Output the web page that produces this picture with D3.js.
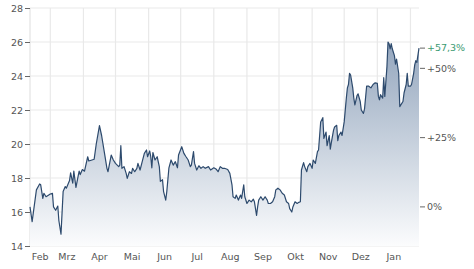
<!DOCTYPE html>
<html>
<head>
<meta charset="utf-8">
<script src="https://cdn.jsdelivr.net/npm/d3@7"></script>
<style>
  body { margin: 0; background: #fff; }
  svg { display: block; font-family: "DejaVu Sans", Verdana, sans-serif; }
</style>
</head>
<body>
<svg id="chart" width="474" height="269"></svg>
<script>
var svgWidth = 474;
var svgHeight = 269;

// price ticks (left), percent ticks (right), german month names
var priceTicks = [14, 16, 18, 20, 22, 24, 26, 28];
var pctTicks = [0, 25, 50];
var monthNames = ["Jan", "Feb", "Mrz", "Apr", "Mai", "Jun", "Jul", "Aug", "Sep", "Okt", "Nov", "Dez"];

// closing prices
var dates = [
  "2023-02-10","2023-02-12","2023-02-16","2023-02-19","2023-02-20","2023-02-22","2023-02-23","2023-02-25",
  "2023-03-01","2023-03-03","2023-03-04","2023-03-06","2023-03-08","2023-03-09","2023-03-11","2023-03-13",
  "2023-03-15","2023-03-16","2023-03-19","2023-03-20","2023-03-22","2023-03-23","2023-03-25","2023-03-27",
  "2023-03-28","2023-03-29","2023-03-31","2023-04-02","2023-04-05","2023-04-06","2023-04-09","2023-04-11",
  "2023-04-13","2023-04-16","2023-04-18","2023-04-21","2023-04-23","2023-04-24","2023-04-27","2023-04-29",
  "2023-05-01","2023-05-04","2023-05-05","2023-05-06","2023-05-07","2023-05-09","2023-05-11","2023-05-12",
  "2023-05-14","2023-05-16","2023-05-17","2023-05-19","2023-05-21","2023-05-22","2023-05-24","2023-05-26",
  "2023-05-28","2023-05-30","2023-05-31","2023-06-02","2023-06-03","2023-06-04","2023-06-05","2023-06-07",
  "2023-06-09","2023-06-11","2023-06-12","2023-06-14","2023-06-15","2023-06-17","2023-06-18","2023-06-20",
  "2023-06-22","2023-06-24","2023-06-26","2023-06-28","2023-06-29","2023-07-02","2023-07-04","2023-07-06",
  "2023-07-08","2023-07-10","2023-07-11","2023-07-13","2023-07-14","2023-07-16","2023-07-18","2023-07-20",
  "2023-07-22","2023-07-24","2023-07-27","2023-07-29","2023-08-01","2023-08-03","2023-08-05","2023-08-07",
  "2023-08-09","2023-08-11","2023-08-14","2023-08-16","2023-08-18","2023-08-19","2023-08-21","2023-08-22",
  "2023-08-24","2023-08-26","2023-08-27","2023-08-29","2023-08-30","2023-09-01","2023-09-03","2023-09-05",
  "2023-09-07","2023-09-08","2023-09-10","2023-09-11","2023-09-12","2023-09-14","2023-09-16","2023-09-18",
  "2023-09-20","2023-09-21","2023-09-23","2023-09-25","2023-09-27","2023-09-28","2023-09-30","2023-10-02",
  "2023-10-04","2023-10-06","2023-10-08","2023-10-10","2023-10-11","2023-10-13","2023-10-14","2023-10-16",
  "2023-10-18","2023-10-19","2023-10-21","2023-10-22","2023-10-24","2023-10-25","2023-10-27","2023-10-28",
  "2023-10-30","2023-11-01","2023-11-02","2023-11-04","2023-11-06","2023-11-07","2023-11-09","2023-11-11",
  "2023-11-12","2023-11-14","2023-11-15","2023-11-17","2023-11-18","2023-11-19","2023-11-21","2023-11-22",
  "2023-11-24","2023-11-25","2023-11-26","2023-11-28","2023-11-29","2023-12-01","2023-12-03","2023-12-04",
  "2023-12-05","2023-12-06","2023-12-07","2023-12-09","2023-12-10","2023-12-11","2023-12-13","2023-12-14",
  "2023-12-16","2023-12-17","2023-12-19","2023-12-20","2023-12-22","2023-12-24","2023-12-26","2023-12-28",
  "2023-12-30","2024-01-01","2024-01-02","2024-01-03","2024-01-04","2024-01-06","2024-01-07","2024-01-08",
  "2024-01-10","2024-01-11","2024-01-12","2024-01-13","2024-01-14","2024-01-15","2024-01-17","2024-01-18",
  "2024-01-19","2024-01-21","2024-01-22","2024-01-23","2024-01-25","2024-01-26","2024-01-28","2024-01-29",
  "2024-01-30","2024-02-01","2024-02-02","2024-02-04","2024-02-05","2024-02-06","2024-02-07","2024-02-09"
];
var prices = [
  16.3, 15.43, 17.3, 17.65, 17.6, 16.8, 17.1, 16.9,
  17.06, 17.1, 16.3, 16.1, 16.35, 15.5, 14.7, 17.2,
  17.5, 17.4, 17.85, 18.3, 17.7, 18.4, 17.45, 18.1,
  18.4, 18.2, 18.5, 18.4, 19.25, 19.0, 19.06, 19.1,
  20.0, 21.08, 20.5, 19.35, 18.57, 18.37, 19.35, 19.06,
  18.86, 18.67, 18.76, 19.9, 18.57, 18.67, 18.27, 17.98,
  18.37, 18.27, 18.57, 18.37, 18.57, 18.86, 18.47, 18.96,
  19.45, 19.65, 19.25, 19.59, 19.25, 18.6, 19.5, 19.06,
  19.25, 18.67, 17.8, 17.9, 17.2, 16.7, 17.2, 18.6,
  19.06, 18.76, 18.96, 18.6, 19.35, 19.84, 19.45, 19.25,
  19.06, 18.67, 18.76, 19.55, 18.86, 18.47, 18.72, 18.57,
  18.67, 18.57, 18.67, 18.47, 18.6, 18.53, 18.37, 18.67,
  18.57, 18.57, 18.5, 18.27, 17.6, 16.9, 16.8, 17.0,
  16.7, 17.0, 16.8, 17.6, 16.9, 16.5, 16.7, 16.6,
  16.75, 16.6, 15.8, 16.3, 16.7, 16.9, 16.7, 16.9,
  16.7, 16.5, 16.5, 16.6, 16.9, 17.3, 17.4, 17.3,
  17.1, 17.0, 16.6, 16.5, 16.2, 16.0, 16.3, 16.6,
  16.5, 16.55, 16.6, 18.47, 18.9, 18.67, 18.37, 18.67,
  18.86, 18.57, 19.06, 18.86, 19.55, 19.65, 21.3, 21.55,
  20.33, 20.7, 19.9, 20.5, 19.7, 20.1, 20.8, 21.0,
  21.1, 20.2, 20.5, 20.7, 20.5, 21.3, 22.7, 23.3,
  23.5, 24.16, 24.06, 23.3, 22.7, 22.3, 22.85, 22.95,
  22.5, 22.0, 21.8, 22.05, 23.4, 23.4, 23.3, 23.5,
  23.6, 23.57, 22.8, 22.6, 22.9, 22.7, 23.9, 22.8,
  24.55, 26.0, 25.9, 25.6, 25.9, 25.6, 25.2, 24.7,
  25.0, 24.16, 22.2, 22.3, 22.5, 23.0, 23.5, 24.16,
  23.4, 23.4, 23.5, 24.16, 24.65, 24.9, 24.8, 25.64
];

var parseDate = d3.utcParse("%Y-%m-%d");
var data = dates.map(function(d, i){
  return { date: parseDate(d), value: prices[i] };
});
var basePrice = prices[0];
var lastPrice = prices[prices.length - 1];

var plotLeft = 30, plotRight = 419, plotTop = 8, plotBottom = 246;

var x = d3.scaleUtc()
  .domain(d3.extent(data, function(d){ return d.date; }))
  .range([plotLeft, plotRight]);
var y = d3.scaleLinear()
  .domain([14, 28])
  .range([plotBottom, plotTop]);

var svg = d3.select("#chart");

var defs = svg.append("defs");
var grad = defs.append("linearGradient")
  .attr("id", "areaFill")
  .attr("gradientUnits", "userSpaceOnUse")
  .attr("x1", 0).attr("y1", plotTop)
  .attr("x2", 0).attr("y2", plotBottom);
grad.append("stop").attr("offset", 0).attr("stop-color", "#8398b3");
grad.append("stop").attr("offset", 1).attr("stop-color", "#fbfcfd");

// grid
var monthStarts = d3.utcMonth.range(x.domain()[0], x.domain()[1]);

svg.append("g")
  .selectAll("line")
  .data(priceTicks)
  .enter()
  .append("line")
  .attr("x1", plotLeft).attr("x2", plotRight)
  .attr("y1", function(d){ return y(d); })
  .attr("y2", function(d){ return y(d); })
  .attr("stroke", "#e9e9e9")
  .attr("stroke-width", 1.2);

svg.append("g")
  .selectAll("line")
  .data(monthStarts)
  .enter()
  .append("line")
  .attr("x1", function(d){ return x(d); })
  .attr("x2", function(d){ return x(d); })
  .attr("y1", plotTop).attr("y2", plotBottom)
  .attr("stroke", "#e9e9e9")
  .attr("stroke-width", 1.2);

// left edge
svg.append("line")
  .attr("x1", plotLeft).attr("x2", plotLeft)
  .attr("y1", plotTop).attr("y2", plotBottom)
  .attr("stroke", "#e3e3e3")
  .attr("stroke-width", 1.2);

// area + line
var area = d3.area()
  .x(function(d){ return x(d.date); })
  .y0(plotBottom)
  .y1(function(d){ return y(d.value); });
var line = d3.line()
  .x(function(d){ return x(d.date); })
  .y(function(d){ return y(d.value); });

svg.append("path")
  .datum(data)
  .attr("d", area)
  .attr("fill", "url(#areaFill)");

svg.append("path")
  .datum(data)
  .attr("d", line)
  .attr("fill", "none")
  .attr("stroke", "#2d4a6d")
  .attr("stroke-width", 1.2)
  .attr("stroke-linejoin", "round");

// left axis
var yAxis = d3.axisLeft(y)
  .tickValues(priceTicks)
  .tickSize(5)
  .tickPadding(2)
  .tickFormat(d3.format("d"));
var gy = svg.append("g")
  .attr("transform", "translate(" + plotLeft + ",0)")
  .call(yAxis);
gy.select(".domain").remove();
gy.selectAll("line").attr("stroke", "#666");
gy.selectAll("text")
  .attr("fill", "#555")
  .style("font-size", "9.5px")
  .style("font-family", "DejaVu Sans, Verdana, sans-serif");

// right axis in percent vs. first price
var pctFmt = function(p){
  return (p > 0 ? "+" : "") + d3.format(".1~f")(p).replace(".", ",") + "%";
};
var yPct = function(p){ return y(basePrice * (1 + p / 100)); };

var rTicks = svg.append("g")
  .selectAll("g")
  .data(pctTicks)
  .enter()
  .append("g")
  .attr("transform", function(d){ return "translate(" + plotRight + "," + yPct(d) + ")"; });
rTicks.append("line")
  .attr("x1", 1).attr("x2", 6)
  .attr("stroke", "#666");
rTicks.append("text")
  .attr("x", 8)
  .attr("dy", "0.34em")
  .attr("fill", "#555")
  .style("font-size", "9.5px")
  .text(pctFmt);

var lastPct = (lastPrice / basePrice - 1) * 100;
var gl = svg.append("g")
  .attr("transform", "translate(" + plotRight + "," + y(lastPrice) + ")");
gl.append("line")
  .attr("x1", 1).attr("x2", 6)
  .attr("stroke", "#666");
gl.append("text")
  .attr("x", 8)
  .attr("dy", "0.34em")
  .attr("fill", "#3b9a72")
  .style("font-size", "9.5px")
  .text(pctFmt(Math.round(lastPct * 10) / 10));

// month labels centered on the visible part of each month
var monthSpans = [x.domain()[0]].concat(monthStarts).map(function(s){
  var e = d3.utcMonth.offset(d3.utcMonth.floor(s), 1);
  if (e > x.domain()[1]) e = x.domain()[1];
  return { start: s, end: e, m: s.getUTCMonth() };
}).filter(function(d){ return x(d.end) - x(d.start) > 14; });

svg.append("g")
  .selectAll("text")
  .data(monthSpans)
  .enter()
  .append("text")
  .attr("x", function(d){ return (x(d.start) + x(d.end)) / 2; })
  .attr("y", 260)
  .attr("text-anchor", "middle")
  .attr("fill", "#555")
  .style("font-size", "9.5px")
  .text(function(d){ return monthNames[d.m]; });
</script>
</body>
</html>
